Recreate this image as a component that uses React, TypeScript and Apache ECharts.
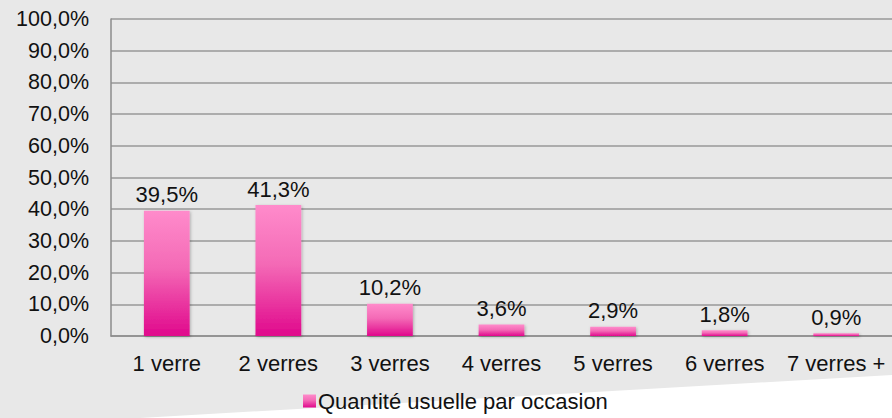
import React, { useEffect, useRef } from "react";
import * as echarts from "echarts";

const categories = ["1 verre", "2 verres", "3 verres", "4 verres", "5 verres", "6 verres", "7 verres +"];
const values = [39.5, 41.3, 10.2, 3.6, 2.9, 1.8, 0.9];
const seriesName = "Quantité usuelle par occasion";
const yTicks = { min: 0, max: 100, interval: 10 };

const fmt = (v: number) => v.toFixed(1).replace(".", ",") + "%";
const FONT = "'Liberation Sans', Arial, sans-serif";

export default function App() {
  const ref = useRef<HTMLDivElement>(null);
  useEffect(() => {
    if (!ref.current) return;
    const chart = echarts.init(ref.current, undefined, { renderer: "svg" });
    const grad = new echarts.graphic.LinearGradient(0, 0, 0, 1, [
      { offset: 0, color: "#ff8bcb" },
      { offset: 0.45, color: "#f46ab6" },
      { offset: 1, color: "#e0088c" },
    ]);
    chart.setOption({
      animation: false,
      backgroundColor: "#e8e8e8",
      textStyle: { fontFamily: FONT },
      graphic: [
        {
          type: "polygon",
          z: -10,
          silent: true,
          shape: { points: [[892, 375], [892, 418], [140, 418]] },
          style: { fill: "#ffffff" },
        },
      ],
      grid: { left: 111, right: 0, top: 19, bottom: 82, containLabel: false },
      legend: {
        bottom: 1,
        left: 298,
        icon: "rect",
        itemWidth: 13,
        itemHeight: 13,
        itemGap: 4,
        textStyle: { fontSize: 22, color: "#111", fontFamily: FONT, padding: [0, 0, 0, -3] },
        data: [{ name: seriesName, itemStyle: { color: grad } }],
      },
      xAxis: {
        type: "category",
        data: categories,
        axisLine: { lineStyle: { color: "#8c8c8c", width: 1.5 } },
        axisTick: { show: false },
        axisLabel: { interval: 0, fontSize: 22, color: "#111", margin: 16, fontFamily: FONT },
      },
      yAxis: {
        type: "value",
        min: yTicks.min,
        max: yTicks.max,
        interval: yTicks.interval,
        axisLine: { show: true, lineStyle: { color: "#8c8c8c", width: 1.5 } },
        axisTick: { show: false },
        splitLine: { lineStyle: { color: "#999999", width: 1.5 } },
        axisLabel: { fontSize: 21.5, color: "#111", margin: 22, fontFamily: FONT, formatter: (v: number) => fmt(v) },
      },
      series: [
        {
          name: seriesName,
          type: "bar",
          data: values,
          barWidth: "41%",
          itemStyle: {
            color: grad,
            shadowColor: "rgba(0,0,0,0.25)",
            shadowBlur: 3,
            shadowOffsetX: 1,
            shadowOffsetY: 1,
          },
          label: {
            show: true,
            position: "top",
            distance: 5,
            fontSize: 22,
            color: "#111",
            fontFamily: FONT,
            formatter: (p: any) => fmt(p.value),
          },
        },
      ],
    });
    return () => chart.dispose();
  }, []);
  return <div ref={ref} style={{ width: 892, height: 418, position: "absolute", left: 0, top: 0 }} />;
}
